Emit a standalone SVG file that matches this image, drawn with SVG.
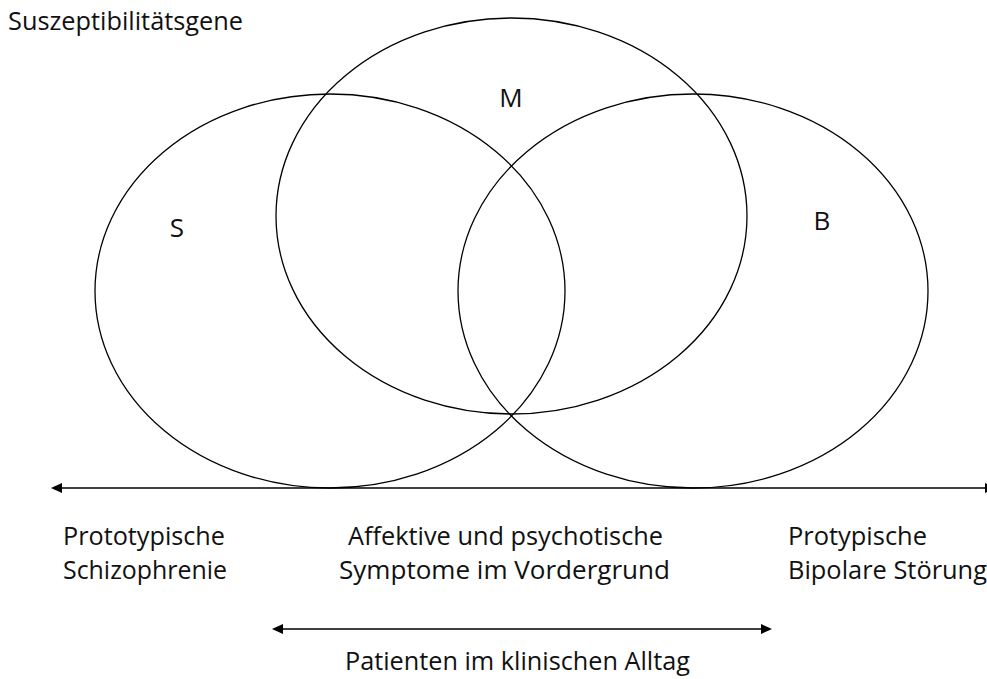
<svg xmlns="http://www.w3.org/2000/svg" width="987" height="679" viewBox="0 0 987 679">
<style>
.ell{fill:none;stroke:#000;stroke-width:1.3}
.t{font-family:"Open Sans","Noto Sans","Liberation Sans",sans-serif;font-size:25px;fill:#111}
.L{font-size:26px}
.ln{stroke:#000;stroke-width:1.5;fill:none}
.ln2{stroke:#404040;stroke-width:2;fill:none}
</style>
<rect width="987" height="679" fill="#fff"/>
<text class="t" x="8" y="30" textLength="235" lengthAdjust="spacingAndGlyphs">Suszeptibilitätsgene</text>
<g id="node-S">
<ellipse class="ell" cx="330" cy="291" rx="235" ry="197"/>
<text class="t L" x="177" y="237" text-anchor="middle">S</text>
</g>
<g id="node-M">
<ellipse class="ell" cx="511.5" cy="216" rx="235.5" ry="198"/>
<text class="t L" x="511" y="107" text-anchor="middle">M</text>
</g>
<g id="node-B">
<ellipse class="ell" cx="693" cy="291" rx="235" ry="197"/>
<text class="t L" x="822" y="230" text-anchor="middle">B</text>
</g>
<g id="connectors">
<line class="ln" x1="60" y1="488" x2="987" y2="488"/>
<polygon points="51,488 62,483 62,493" fill="#000"/>
<polygon points="985,483 995,488 985,493" fill="#000"/>
<line class="ln2" x1="280" y1="629" x2="764" y2="629"/>
<polygon points="272,629 283,624 283,634" fill="#000"/>
<polygon points="772,629 761,624 761,634" fill="#000"/>
</g>
<g id="labels">
<text class="t" x="63" y="545" textLength="162" lengthAdjust="spacingAndGlyphs">Prototypische</text>
<text class="t" x="63" y="579" textLength="164" lengthAdjust="spacingAndGlyphs">Schizophrenie</text>
<text class="t" x="348" y="545" textLength="315" lengthAdjust="spacingAndGlyphs">Affektive und psychotische</text>
<text class="t" x="339" y="579" textLength="331" lengthAdjust="spacingAndGlyphs">Symptome im Vordergrund</text>
<text class="t" x="788" y="545" textLength="139" lengthAdjust="spacingAndGlyphs">Protypische</text>
<text class="t" x="788" y="579" textLength="199" lengthAdjust="spacingAndGlyphs">Bipolare Störung</text>
<text class="t" x="345" y="670" textLength="345" lengthAdjust="spacingAndGlyphs">Patienten im klinischen Alltag</text>
</g>
</svg>
